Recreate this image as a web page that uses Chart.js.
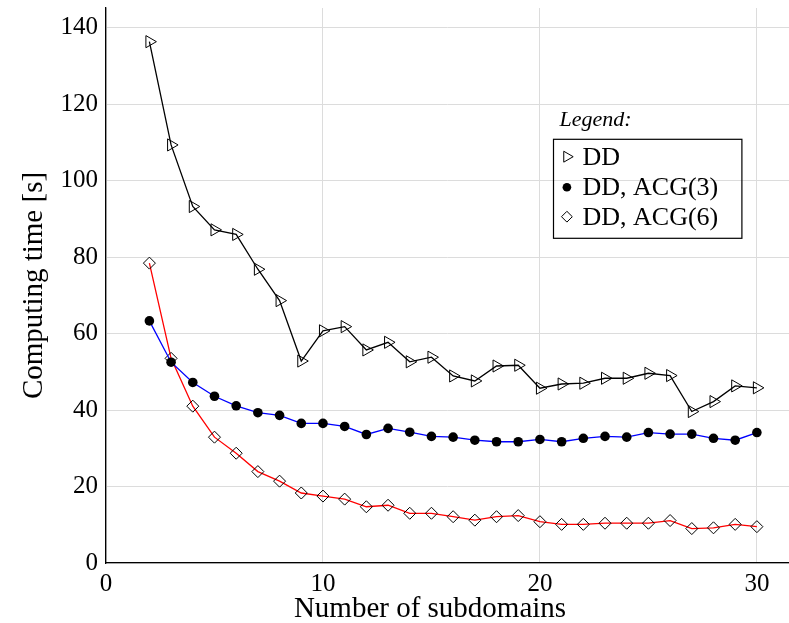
<!DOCTYPE html>
<html>
<head>
<meta charset="utf-8">
<script src="https://cdn.jsdelivr.net/npm/chart.js@4/dist/chart.umd.min.js"></script>
<style>
  body { margin: 0; background: #fff; }
  canvas { display: block; }
</style>
</head>
<body>
<canvas id="chart" width="789" height="623"></canvas>
<script>
const subdomains = [2, 3, 4, 5, 6, 7, 8, 9, 10, 11, 12, 13, 14, 15, 16, 17, 18, 19, 20, 21, 22, 23, 24, 25, 26, 27, 28, 29, 30];
const ddTimes = [136.3, 109.3, 93.2, 87.1, 85.9, 76.8, 68.6, 52.8, 60.7, 61.8, 55.7, 57.7, 52.6, 53.8, 48.9, 47.6, 51.5, 51.7, 45.7, 46.8, 47.0, 48.3, 48.3, 49.6, 49.0, 39.6, 42.2, 46.3, 45.8];
const acg3Times = [63.3, 52.5, 47.2, 43.6, 41.1, 39.3, 38.6, 36.5, 36.5, 35.7, 33.6, 35.2, 34.2, 33.1, 32.9, 32.1, 31.7, 31.7, 32.3, 31.7, 32.6, 33.1, 32.9, 34.1, 33.7, 33.7, 32.6, 32.1, 34.1];
const acg6Times = [78.4, 53.5, 41.0, 32.9, 28.7, 23.9, 21.4, 18.3, 17.5, 16.7, 14.7, 15.1, 13.0, 13.0, 12.1, 11.2, 12.1, 12.4, 10.8, 10.1, 10.1, 10.4, 10.4, 10.4, 11.1, 9.0, 9.2, 10.1, 9.5];
const seriesNames = ['DD', 'DD, ACG(3)', 'DD, ACG(6)'];
const xTitle = 'Number of subdomains';
const yTitle = 'Computing time [s]';

const SERIF = "'Liberation Serif', 'DejaVu Serif', serif";

function pts(vals) {
    return subdomains.map((x, i) => ({ x: x, y: vals[i] }));
}

const markers = [
    { pointStyle: 'triangle', rotation: 90, radius: 7, borderWidth: 1, backgroundColor: 'rgba(0,0,0,0)' },
    { pointStyle: 'circle', rotation: 0, radius: 4.8, borderWidth: 0, backgroundColor: '#000' },
    { pointStyle: 'rectRot', rotation: 0, radius: 6, borderWidth: 1, backgroundColor: 'rgba(0,0,0,0)' }
];

// legend drawn inside the plot, pgfplots style, plus the x label
const boxLegend = {
    id: 'boxLegend',
    afterDraw(chart) {
        const ctx = chart.ctx;
        const a = chart.chartArea;
        ctx.save();
        ctx.fillStyle = '#000';
        ctx.font = '29px ' + SERIF;
        ctx.textAlign = 'center';
        ctx.textBaseline = 'alphabetic';
        ctx.fillText(xTitle, a.left + 324, a.bottom + 54);
        ctx.textAlign = 'left';

        const bx = a.left + 447.5, by = a.top + 131.3, bw = 188.4, bh = 99;
        ctx.font = 'italic 22px ' + SERIF;
        ctx.fillText('Legend:', bx + 6, by - 13);
        ctx.strokeStyle = '#000';
        ctx.lineWidth = 1.2;
        ctx.strokeRect(bx, by, bw, bh);
        ctx.font = '26px ' + SERIF;
        ctx.textBaseline = 'middle';
        const rows = [by + 17.4, by + 48, by + 77.4];
        seriesNames.forEach((name, i) => {
            const m = markers[i];
            ctx.fillStyle = m.backgroundColor;
            ctx.strokeStyle = '#000';
            ctx.lineWidth = m.borderWidth;
            Chart.helpers.drawPoint(ctx, {
                pointStyle: m.pointStyle,
                rotation: m.rotation,
                radius: m.radius * 0.9,
                borderWidth: m.borderWidth
            }, bx + 13.4, rows[i]);
            ctx.fillStyle = '#000';
            ctx.fillText(name, bx + 29, rows[i] + 1);
        });
        ctx.restore();
    }
};

new Chart(document.getElementById('chart'), {
    type: 'line',
    data: {
        datasets: [
            { label: seriesNames[0], data: pts(ddTimes), borderColor: '#000', borderWidth: 1.3, order: 0,
              pointStyle: markers[0].pointStyle, pointRotation: 90, pointRadius: markers[0].radius,
              pointBorderWidth: 1, pointBorderColor: '#000', pointBackgroundColor: 'rgba(0,0,0,0)' },
            { label: seriesNames[1], data: pts(acg3Times), borderColor: '#0000ff', borderWidth: 1.3, order: 1,
              pointStyle: 'circle', pointRadius: markers[1].radius,
              pointBorderWidth: 0, pointBackgroundColor: '#000' },
            { label: seriesNames[2], data: pts(acg6Times), borderColor: '#ff0000', borderWidth: 1.3, order: 2,
              pointStyle: 'rectRot', pointRadius: markers[2].radius,
              pointBorderWidth: 1, pointBorderColor: '#000', pointBackgroundColor: 'rgba(0,0,0,0)' }
        ]
    },
    options: {
        responsive: false,
        devicePixelRatio: 1,
        animation: false,
        layout: { autoPadding: false, padding: { left: 0, right: 0, top: 8, bottom: 0 } },
        plugins: { legend: { display: false }, tooltip: { enabled: false } },
        scales: {
            x: {
                type: 'linear',
                min: 0,
                max: 31.48,
                afterFit(scale) { scale.height = 60; scale.paddingLeft = 0; scale.paddingRight = 0; },
                grid: { color: '#dcdcdc', lineWidth: 1, drawTicks: false },
                border: { color: '#000', width: 1.3 },
                ticks: { stepSize: 10, includeBounds: false, padding: 6, color: '#000',
                         font: { family: SERIF, size: 25 } },
                title: { display: false }
            },
            y: {
                min: 0,
                max: 145.1,
                afterFit(scale) { scale.width = 106; scale.paddingTop = 0; scale.paddingBottom = 0; },
                grid: { color: '#dcdcdc', lineWidth: 1, drawTicks: false },
                border: { color: '#000', width: 1.3 },
                ticks: { stepSize: 20, includeBounds: false, padding: 8, color: '#000',
                         font: { family: SERIF, size: 25 } },
                title: { display: true, text: yTitle, color: '#000',
                         font: { family: SERIF, size: 29, lineHeight: 1 }, padding: { top: 20, bottom: 0 } }
            }
        }
    },
    plugins: [boxLegend]
});
</script>
</body>
</html>
